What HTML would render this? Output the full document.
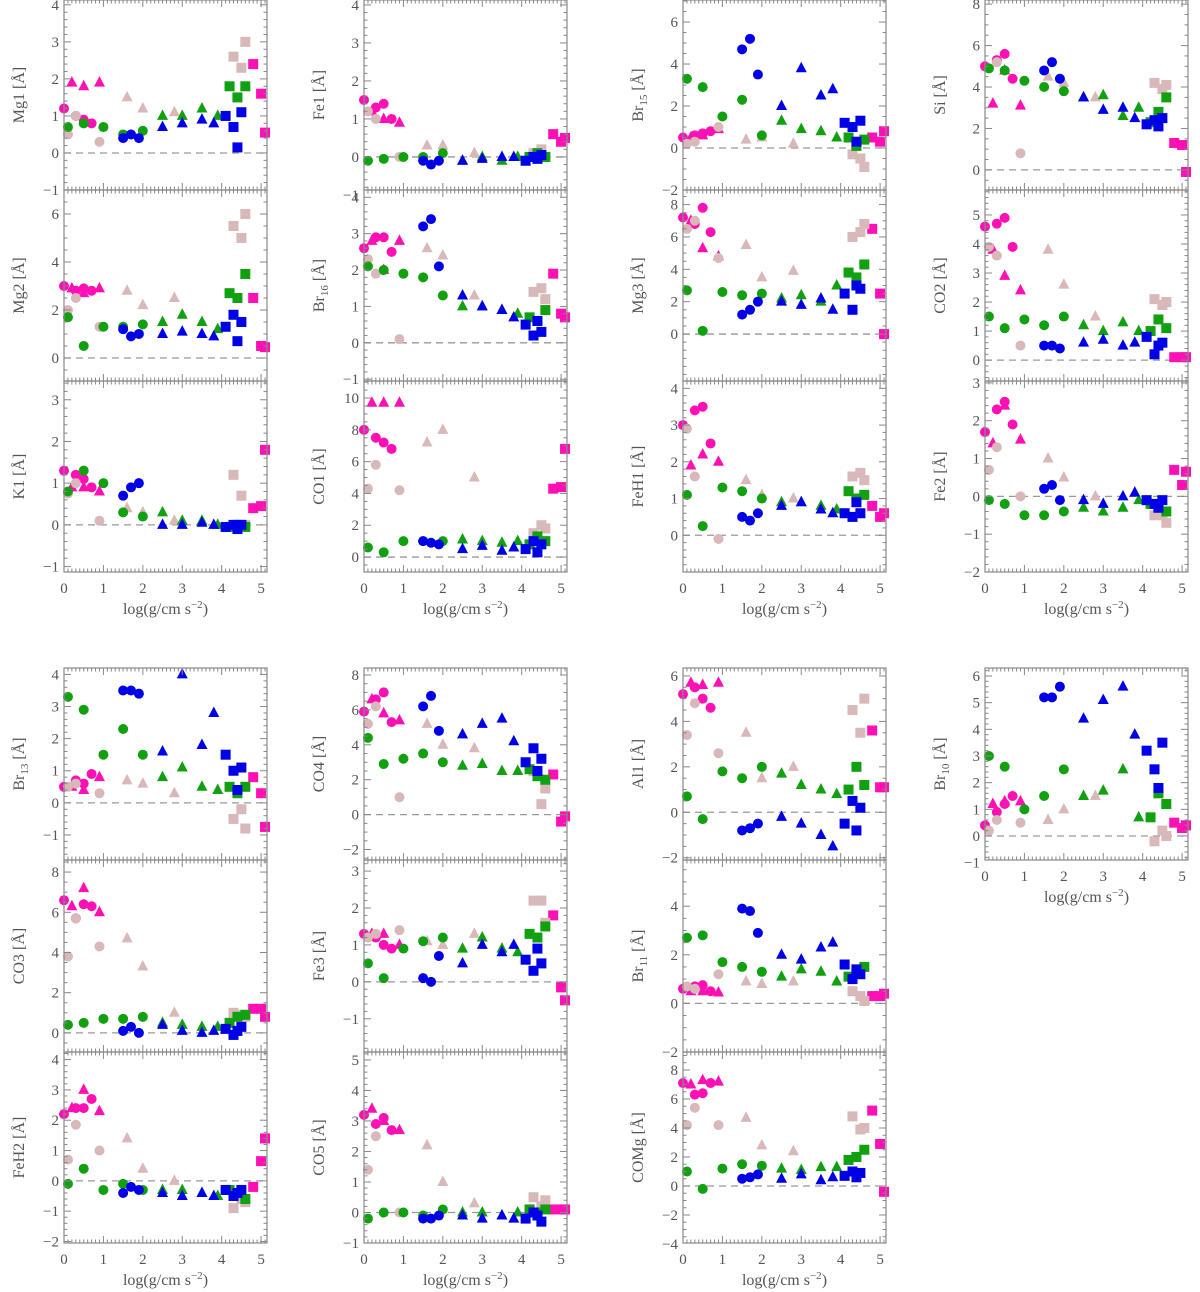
<!DOCTYPE html>
<html><head><meta charset="utf-8"><style>
body{margin:0;background:#fff;}
svg{display:block;font-family:"Liberation Serif",serif;}
</style></head><body>
<svg id="fig" width="1200" height="1292" viewBox="0 0 1200 1292" xmlns="http://www.w3.org/2000/svg"></svg>
<script>
// shared star properties: log g and type (color+marker)
const logg = [0,0.3,0.5,0.7,0.2,0.5,0.9,4.8,5.0,5.1, 0.1,0.3,0.9,1.6,2.0,2.8,4.3,4.5,4.6, 0.1,0.5,1.0,1.5,2.0,2.5,3.0,3.5,3.9,4.2,4.4,4.6, 1.5,1.7,1.9,2.5,3.0,3.5,3.8,4.1,4.3,4.4,4.5];
const starType = ["mc","mc","mc","mc","mt","mt","mt","ms","ms","ms","tc","tc","tc","tt","tt","tt","ts","ts","ts","gc","gc","gc","gc","gc","gt","gt","gt","gt","gs","gs","gs","bc","bc","bc","bt","bt","bt","bt","bs","bs","bs","bs"];
// equivalent widths per index
const mg1 = [1.2,1.0,0.9,0.8,1.9,1.8,1.9,2.4,1.6,0.55, 0.5,1.0,0.3,1.5,1.2,1.1,2.6,2.3,3.0, 0.7,0.8,0.7,0.5,0.6,1.0,1.0,1.2,1.0,1.8,1.5,1.8, 0.4,0.5,0.4,0.7,0.8,0.9,0.8,1.0,0.7,0.15,1.1];
const mg2 = [3.0,2.8,2.9,2.8,2.9,2.7,2.9,2.5,0.5,0.45, 2.0,2.5,1.3,2.8,2.2,2.5,5.5,5.0,6.0, 1.7,0.5,1.3,1.3,1.4,1.5,1.8,1.5,1.2,2.7,2.5,3.5, 1.2,0.9,1.0,1.0,1.1,1.0,0.9,1.3,1.8,0.7,1.5];
const k1 = [1.3,1.2,1.1,0.9,0.9,0.9,0.8,0.4,0.45,1.8, 0.75,1.0,0.1,0.4,0.3,0.1,1.2,0.7,0.0, 0.8,1.3,1.0,0.3,0.2,0.3,0.1,0.1,0.0,-0.05,0.0,-0.05, 0.7,0.9,1.0,0.0,0.0,0.05,0.0,-0.05,0.0,-0.1,0.0];
const fe1 = [1.5,1.3,1.4,1.0,1.2,1.0,0.9,0.6,0.4,0.5, 1.2,1.0,0.0,0.3,0.3,0.1,0.1,0.2,0.0, -0.1,-0.05,0.0,0.0,0.1,-0.1,0.0,-0.1,0.0,0.0,0.1,0.0, -0.1,-0.2,-0.1,-0.1,-0.05,0.0,0.0,-0.1,0.0,-0.05,0.05];
const br16 = [2.6,2.9,2.9,2.5,2.8,2.0,2.8,1.9,0.8,0.7, 2.3,1.9,0.1,2.6,2.4,1.3,1.4,1.5,1.2, 2.1,2.0,1.9,1.8,1.3,1.0,1.0,0.9,0.8,0.7,0.6,0.9, 3.2,3.4,2.1,1.3,1.0,0.9,0.7,0.5,0.2,0.6,0.3];
const co1 = [8.0,7.5,7.2,6.8,9.7,9.7,9.7,4.3,4.4,6.8, 4.3,5.8,4.2,7.2,8.0,5.0,1.5,2.0,1.8, 0.6,0.3,1.0,1.0,1.0,1.1,1.0,0.9,1.0,0.8,1.3,1.0, 1.0,0.9,0.8,0.5,0.7,0.4,0.6,0.5,1.0,0.3,0.8];
const br15 = [0.5,0.6,0.7,0.8,0.5,0.6,0.9,0.5,0.3,0.8, 0.2,0.3,1.0,0.4,0.5,0.2,-0.3,-0.5,-0.9, 3.3,2.9,1.5,2.3,0.6,1.3,0.9,0.8,0.5,0.5,0.1,0.4, 4.7,5.2,3.5,2.0,3.8,2.5,2.8,1.2,1.0,0.3,1.3];
const mg3 = [7.2,6.8,7.8,6.3,7.0,5.3,4.8,6.5,2.5,0.0, 6.5,7.0,4.7,5.5,3.5,3.9,6.0,6.3,6.8, 2.7,0.2,2.6,2.4,2.5,2.2,2.4,2.0,3.0,3.8,3.5,4.3, 1.2,1.5,2.0,2.0,1.8,2.2,1.5,2.5,1.5,3.0,2.8];
const feh1 = [3.0,3.4,3.5,2.5,1.9,2.2,2.0,0.8,0.5,0.6, 2.9,1.6,-0.1,1.5,1.1,1.0,1.6,1.7,1.5, 1.1,0.25,1.3,1.2,1.0,0.9,0.9,0.8,0.7,1.2,1.0,1.1, 0.5,0.4,0.6,0.8,0.9,0.7,0.6,0.6,0.5,0.9,0.6];
const si = [5.0,5.3,5.6,4.4,3.2,4.8,3.1,1.3,1.2,-0.1, 4.9,5.2,0.8,4.5,4.2,3.5,4.2,3.9,4.1, 4.9,4.8,4.3,4.0,3.8,3.5,3.6,2.6,3.0,2.3,2.8,3.5, 4.8,5.2,4.4,3.5,2.9,3.0,2.5,2.2,2.4,2.1,2.5];
const co2 = [4.6,4.7,4.9,3.9,3.8,2.9,2.4,0.1,0.1,0.1, 3.9,3.6,0.5,3.8,2.6,1.5,2.1,1.9,2.0, 1.5,1.1,1.4,1.2,1.5,1.2,1.0,1.3,1.0,1.0,1.4,1.1, 0.5,0.5,0.4,0.6,0.7,0.5,0.6,0.8,0.2,0.5,0.6];
const fe2 = [1.7,2.3,2.5,1.9,1.4,2.4,1.5,0.7,0.3,0.65, 0.7,1.3,0.0,1.0,0.5,0.0,-0.5,-0.5,-0.7, -0.1,-0.2,-0.5,-0.5,-0.4,-0.3,-0.4,-0.3,-0.1,-0.2,-0.3,-0.4, 0.2,0.3,-0.1,-0.1,-0.2,0.0,0.1,-0.1,-0.2,-0.3,-0.1];
const br13 = [0.5,0.7,0.6,0.9,0.5,0.4,0.8,0.8,0.3,-0.75, 0.5,0.6,0.3,0.7,0.6,0.3,-0.5,-0.2,-0.8, 3.3,2.9,1.5,2.3,1.5,0.8,1.1,0.5,0.4,0.5,0.3,0.5, 3.5,3.5,3.4,1.6,4.0,1.8,2.8,1.5,1.0,0.4,1.1];
const co3 = [6.6,5.7,6.4,6.3,6.3,7.2,6.0,1.2,1.2,0.8, 3.8,5.7,4.3,4.7,3.3,1.0,1.0,0.9,0.8, 0.4,0.5,0.7,0.7,0.8,0.5,0.4,0.3,0.3,0.5,0.8,0.9, 0.1,0.3,0.0,0.4,0.1,0.0,0.1,0.2,-0.1,0.1,0.3];
const feh2 = [2.2,2.4,2.4,2.7,2.4,3.0,2.3,-0.2,0.65,1.4, 0.7,1.85,1.0,1.4,0.4,0.0,-0.9,-0.6,-0.7, -0.1,0.4,-0.3,-0.1,-0.3,-0.3,-0.3,-0.4,-0.5,-0.3,-0.4,-0.6, -0.4,-0.2,-0.3,-0.4,-0.5,-0.4,-0.5,-0.3,-0.5,-0.4,-0.3];
const co4 = [5.9,6.6,7.0,5.3,6.6,5.8,5.4,2.3,-0.4,-0.1, 5.2,6.2,1.0,5.2,4.0,3.8,2.5,0.6,1.5, 4.4,2.9,3.2,3.5,3.0,2.8,2.9,2.5,2.5,2.6,2.2,2.0, 6.2,6.8,4.8,4.6,5.2,5.5,4.2,3.0,3.8,2.5,3.2];
const fe3 = [1.3,1.2,1.0,0.9,1.3,1.3,1.0,1.8,-0.15,-0.5, 1.2,1.3,1.4,1.1,1.0,1.3,2.2,2.2,1.6, 0.5,0.1,0.9,1.1,1.2,0.9,1.2,0.9,0.8,1.3,1.2,1.5, 0.1,0.0,0.7,0.5,1.0,0.8,1.0,0.6,0.3,0.9,0.5];
const co5 = [3.2,2.9,3.1,2.7,3.4,3.0,2.7,0.1,0.1,0.1, 1.4,2.5,0.0,2.2,1.0,0.3,0.5,0.2,0.4, -0.2,0.0,0.0,-0.1,0.1,0.0,0.0,-0.1,0.0,0.1,0.0,0.1, -0.2,-0.2,-0.1,-0.1,-0.2,-0.1,-0.2,-0.2,0.0,-0.1,-0.3];
const al1 = [5.2,5.5,5.0,4.6,5.7,5.6,5.7,3.6,1.1,1.1, 3.4,4.8,2.6,3.5,1.5,2.0,4.5,3.5,5.0, 0.7,-0.3,1.8,1.5,2.0,1.7,1.2,1.0,0.8,1.0,2.0,1.2, -0.8,-0.7,-0.5,-0.2,-0.5,-1.0,-1.5,-0.5,0.5,-0.8,0.2];
const br11 = [0.6,0.7,0.75,0.5,0.5,0.5,0.45,0.3,0.3,0.4, 0.7,0.6,1.2,0.9,0.8,0.9,0.5,0.3,0.1, 2.7,2.8,1.7,1.5,1.3,1.1,1.4,1.3,0.9,1.1,1.3,1.5, 3.9,3.8,2.9,2.0,1.8,2.3,2.5,1.6,1.0,1.4,1.2];
const comg = [7.1,6.3,6.4,7.1,7.0,7.3,7.2,5.2,2.9,-0.4, 4.2,5.4,4.2,4.7,2.8,2.4,4.8,3.9,4.0, 1.0,-0.2,1.2,1.5,1.4,1.2,1.1,1.3,1.3,1.8,2.0,2.5, 0.5,0.6,0.8,0.5,0.8,0.4,0.6,0.7,1.0,0.6,0.9];
const br10 = [0.4,0.9,1.2,1.5,1.2,1.3,1.3,0.5,0.3,0.4, 0.2,0.6,0.5,0.6,1.0,1.5,-0.2,0.2,0.0, 3.0,2.6,1.0,1.5,2.5,1.5,1.7,2.5,0.7,0.7,1.6,1.2, 5.2,5.2,5.6,4.4,5.1,5.6,3.8,3.2,2.5,1.8,3.5];
const xTicks = [0,1,2,3,4,5];

const COLS=[64,364,683,985], W=203;
const panels = [
 {id:"mg1",lab:"Mg1",sub:"",d:mg1,c:0,y0:0,y1:190,min:-1.0,max:4.13,t:[-1,0,1,2,3,4],m:0.2,xl:false},
 {id:"mg2",lab:"Mg2",sub:"",d:mg2,c:0,y0:190,y1:381,min:-0.96,max:7.0,t:[0,2,4,6],m:0.5,xl:false},
 {id:"k1",lab:"K1",sub:"",d:k1,c:0,y0:381,y1:572,min:-1.13,max:3.45,t:[-1,0,1,2,3],m:0.2,xl:true},
 {id:"fe1",lab:"Fe1",sub:"",d:fe1,c:1,y0:0,y1:190,min:-0.87,max:4.13,t:[-1,0,1,2,3,4],m:0.2,xl:false},
 {id:"br16",lab:"Br",sub:"16",d:br16,c:1,y0:190,y1:381,min:-1.05,max:4.2,t:[-1,0,1,2,3,4],m:0.2,xl:false},
 {id:"co1",lab:"CO1",sub:"",d:co1,c:1,y0:381,y1:572,min:-0.94,max:11.07,t:[0,2,4,6,8,10],m:0.5,xl:true},
 {id:"br15",lab:"Br",sub:"15",d:br15,c:2,y0:0,y1:190,min:-2.0,max:7.05,t:[-2,0,2,4,6],m:0.5,xl:false},
 {id:"mg3",lab:"Mg3",sub:"",d:mg3,c:2,y0:190,y1:381,min:-2.9,max:8.9,t:[0,2,4,6,8],m:0.5,xl:false},
 {id:"feh1",lab:"FeH1",sub:"",d:feh1,c:2,y0:381,y1:572,min:-1.0,max:4.2,t:[0,1,2,3,4],m:0.2,xl:true},
 {id:"si",lab:"Si",sub:"",d:si,c:3,y0:0,y1:190,min:-0.97,max:8.2,t:[0,2,4,6,8],m:0.5,xl:false},
 {id:"co2",lab:"CO2",sub:"",d:co2,c:3,y0:190,y1:381,min:-0.72,max:5.86,t:[0,1,2,3,4,5],m:0.2,xl:false},
 {id:"fe2",lab:"Fe2",sub:"",d:fe2,c:3,y0:381,y1:572,min:-2.0,max:3.05,t:[-2,-1,0,1,2,3],m:0.2,xl:true},
 {id:"br13",lab:"Br",sub:"13",d:br13,c:0,y0:668,y1:860,min:-1.78,max:4.2,t:[-1,0,1,2,3,4],m:0.2,xl:false},
 {id:"co3",lab:"CO3",sub:"",d:co3,c:0,y0:860,y1:1052,min:-0.95,max:8.6,t:[0,2,4,6,8],m:0.5,xl:false},
 {id:"feh2",lab:"FeH2",sub:"",d:feh2,c:0,y0:1052,y1:1243,min:-2.05,max:4.25,t:[-2,-1,0,1,2,3,4],m:0.2,xl:true},
 {id:"co4",lab:"CO4",sub:"",d:co4,c:1,y0:668,y1:860,min:-2.6,max:8.4,t:[-2,0,2,4,6,8],m:0.5,xl:false},
 {id:"fe3",lab:"Fe3",sub:"",d:fe3,c:1,y0:860,y1:1052,min:-1.9,max:3.3,t:[-1,0,1,2,3],m:0.2,xl:false},
 {id:"co5",lab:"CO5",sub:"",d:co5,c:1,y0:1052,y1:1243,min:-1.0,max:5.26,t:[-1,0,1,2,3,4,5],m:0.2,xl:true},
 {id:"al1",lab:"Al1",sub:"",d:al1,c:2,y0:668,y1:860,min:-2.1,max:6.35,t:[-2,0,2,4,6],m:0.5,xl:false},
 {id:"br11",lab:"Br",sub:"11",d:br11,c:2,y0:860,y1:1052,min:-2.0,max:5.9,t:[-2,0,2,4],m:0.5,xl:false},
 {id:"comg",lab:"COMg",sub:"",d:comg,c:2,y0:1052,y1:1243,min:-3.93,max:9.24,t:[-4,-2,0,2,4,6,8],m:0.5,xl:true},
 {id:"br10",lab:"Br",sub:"10",d:br10,c:3,y0:668,y1:860,min:-0.9,max:6.3,t:[-1,0,1,2,3,4,5,6],m:0.2,xl:true}
];
const COLORS={m:"#ff10b4",t:"#d8b8b8",g:"#10a010",b:"#0000e6"};
const NS="http://www.w3.org/2000/svg";
const svg=document.getElementById("fig");
function mk(tag,attrs,parent){const e=document.createElementNS(NS,tag);for(const k in attrs)e.setAttribute(k,attrs[k]);(parent||svg).appendChild(e);return e;}

panels.forEach(p=>{
  const x0=COLS[p.c], x1=x0+W;
  const xs=v=>x0+v/5.15*W;
  const ys=v=>p.y1-(v-p.min)/(p.max-p.min)*(p.y1-p.y0);
  const g=mk("g",{});
  
  
  // zero line
  const z=mk("line",{x1:x0,x2:x1,y1:ys(0),y2:ys(0),stroke:"#999","stroke-width":1.3,"stroke-dasharray":"7,5"},g);
  
  
  // points
  const order=[...p.d.keys()];
  order.forEach(i=>{
    const t=starType[i], col=COLORS[t[0]], cx=xs(logg[i]), cy=ys(p.d[i]);
    let e;
    if(t[1]==="c") e=mk("circle",{cx:cx,cy:cy,r:5,fill:col},g);
    else if(t[1]==="s") e=mk("rect",{x:cx-5,y:cy-5,width:10,height:10,fill:col},g);
    else e=mk("polygon",{points:`${cx},${cy-6.5} ${cx-5.5},${cy+4} ${cx+5.5},${cy+4}`,fill:col},g);
    
    
  });
  // frame
  const fr=mk("rect",{x:x0,y:p.y0,width:W,height:p.y1-p.y0,fill:"none",stroke:"#888","stroke-width":1.2},g);
  
  
  // x ticks
  for(let v=0;v<=5.1;v+=0.1){
    const vv=Math.round(v*10)/10, maj=Math.abs(vv-Math.round(vv))<1e-6, L=maj?7:3.5, X=xs(vv);
    mk("line",{x1:X,x2:X,y1:p.y1,y2:p.y1-L,stroke:"#888","stroke-width":1},g);
    mk("line",{x1:X,x2:X,y1:p.y0,y2:p.y0+L,stroke:"#888","stroke-width":1},g);
  }
  // y ticks
  const st=Math.ceil(p.min/p.m)*p.m;
  for(let v=st;v<=p.max+1e-9;v+=p.m){
    const vv=Math.round(v*100)/100, maj=p.t.includes(vv), L=maj?7:3.5, Y=ys(vv);
    mk("line",{x1:x0,x2:x0+L,y1:Y,y2:Y,stroke:"#888","stroke-width":1},g);
    mk("line",{x1:x1,x2:x1-L,y1:Y,y2:Y,stroke:"#888","stroke-width":1},g);
  }
  p.t.forEach(v=>{
    const tx=mk("text",{x:x0-5,y:ys(v)+5,"text-anchor":"end","font-size":15,fill:"#555"},g);
    tx.textContent=v<0?"\u2212"+Math.abs(v):String(v);
    
    
  });
  // y title
  const cy=(p.y0+p.y1)/2, tx=x0-40;
  const yt=mk("text",{x:tx,y:cy,transform:`rotate(-90 ${tx} ${cy})`,"text-anchor":"middle","font-size":16,fill:"#555"},g);
  
  
  const s1=mk("tspan",{},yt); s1.textContent=p.lab;
  if(p.sub){const s2=mk("tspan",{"font-size":11,dy:4},yt); s2.textContent=p.sub; const s3=mk("tspan",{dy:-4},yt); s3.textContent=" [Å]";}
  else {const s3=mk("tspan",{},yt); s3.textContent=" [Å]";}
  if(p.xl){
    xTicks.forEach(v=>{
      const l=mk("text",{x:xs(v),y:p.y1+21,"text-anchor":"middle","font-size":15,fill:"#555"},g);
      l.textContent=String(v);
      
      
    });
    const xt=mk("text",{x:x0+W/2,y:p.y1+42,"text-anchor":"middle","font-size":16,fill:"#555"},g);
    
    
    const a=mk("tspan",{},xt); a.textContent="log(g/cm s";
    const b=mk("tspan",{"font-size":11,dy:-6},xt); b.textContent="\u22122";
    const c=mk("tspan",{dy:6},xt); c.textContent=")";
  }
});
</script>
</body></html>
